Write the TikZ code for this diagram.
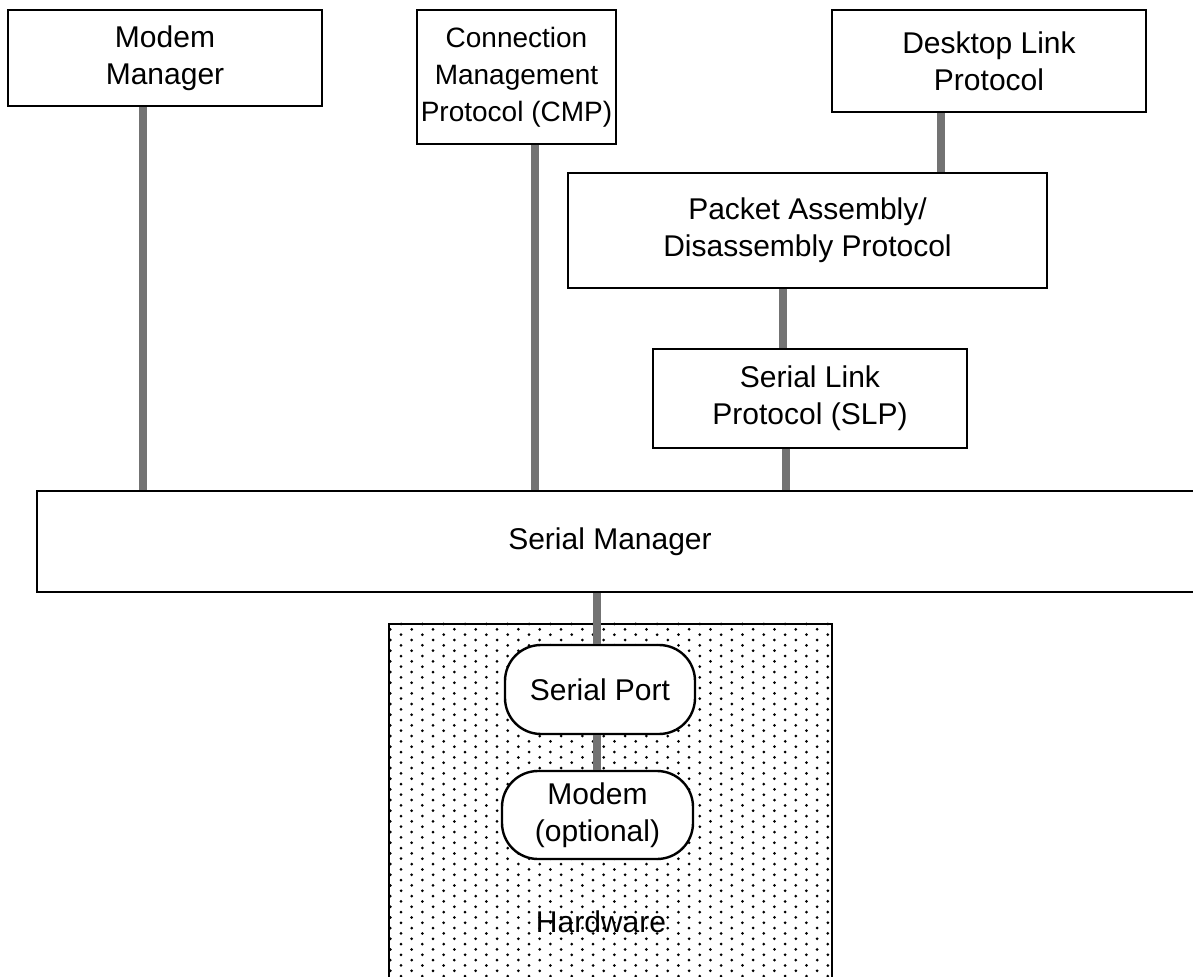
\documentclass[tikz,border=0pt]{standalone}
\usepackage{fontspec}
\setmainfont{Liberation Sans}
\usepackage{tikz}
\usetikzlibrary{calc,positioning}

\tikzset{
  box/.style = {draw, line width=1.2pt, fill=white, inner sep=0pt, align=center},
  pill/.style = {box, rounded corners=18pt},
  conn/.style = {line width=4pt, draw=black!55},
  hwdot/.style = {fill=black}
}

\begin{document}
\begin{tikzpicture}[x=0.5pt, y=-0.5pt, font=\fontsize{15}{18.5}\selectfont]
\useasboundingbox (0,0) rectangle (1193,977);

% hardware block with its dot raster
\node[box, fill=none, minimum width=221.5pt, minimum height=193pt] (hw) at (610.5,817) {};
\begin{scope}
\clip (hw.south west) rectangle (hw.north east);
\foreach \i [evaluate=\i as \ox using {390.33+\i*10.67},
             evaluate=\i as \oy using {618.67+mod(\i,2)*5.33}] in {0,...,42}
  \foreach \k in {0,...,37}
    \fill[hwdot] (\ox,{\oy+\k*10.67}) circle (0.75pt);
\end{scope}
\node (hwlabel) at (601,922) {Hardware};

% protocol boxes
\node[box, minimum width=157pt, minimum height=48pt] (mm) at (165,58) {Modem\\Manager};
\node[box, minimum width=99.5pt, minimum height=67pt, font=\fontsize{14}{18.5}\selectfont] (cmp) at (516.5,77) {Connection\\Management\\Protocol (CMP)};
\node[box, minimum width=157pt, minimum height=51pt] (dlp) at (989,61) {Desktop Link\\Protocol};
\node[box, minimum width=239.5pt, minimum height=57.5pt] (pad) at (807.5,230.5) {Packet Assembly/\\Disassembly Protocol};
\node[box, minimum width=157pt, minimum height=49.5pt] (slp) at (810,398.5) {Serial Link\\Protocol (SLP)};
\node[box, minimum width=586.5pt, minimum height=50.5pt] (sm) at (623.5,541.5) {};
\node (smlabel) at (610,542) {Serial Manager};
\node[pill, minimum width=95pt, minimum height=44.5pt] (sp) at (600,689.5) {Serial Port};
\node[pill, minimum width=95.5pt, minimum height=44pt] (modem) at (597.5,815) {Modem\\(optional)};

% links
\draw[conn] ([xshift=-11pt]mm.south) -- ([xshift=-11pt]mm.south |- sm.north);
\draw[conn] ([xshift=9.25pt]cmp.south) -- ([xshift=9.25pt]cmp.south |- sm.north);
\draw[conn] ([xshift=-24pt]dlp.south) -- ([xshift=-24pt]dlp.south |- pad.north);
\draw[conn] ([xshift=-12.25pt]pad.south) -- ([xshift=-12.25pt]pad.south |- slp.north);
\draw[conn] ([xshift=-12pt]slp.south) -- ([xshift=-12pt]slp.south |- sm.north);
\draw[conn] ([xshift=-1.5pt]sp.north) -- ([xshift=-1.5pt]sp.north |- sm.south);
\draw[conn] ([xshift=-1.5pt]sp.south) -- ([xshift=-1.5pt]sp.south |- modem.north);
\end{tikzpicture}
\end{document}
